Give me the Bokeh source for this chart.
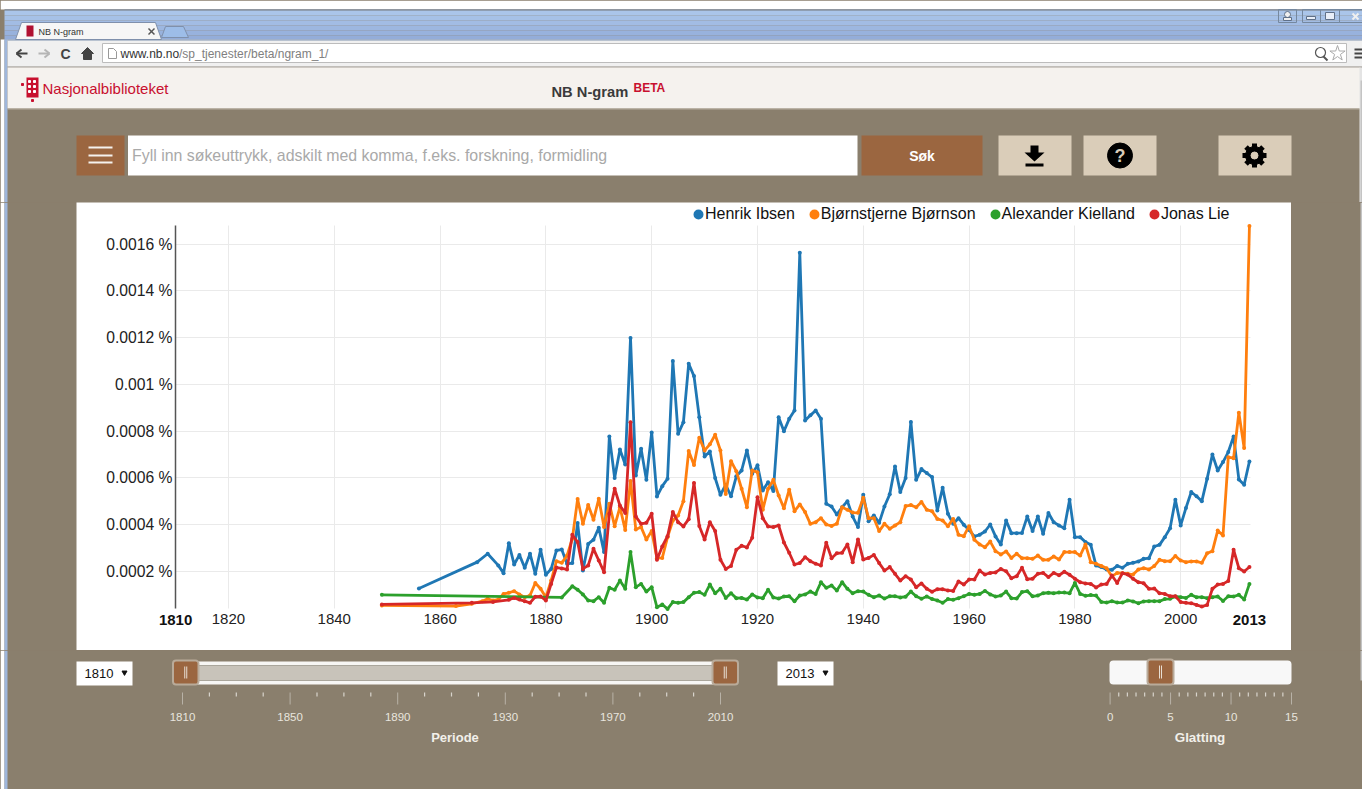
import math
import numpy as np
from bokeh.core.properties import value
from bokeh.embed import file_html
from bokeh.layouts import column, row
from bokeh.models import (FixedTicker, Label, Legend, LegendItem, Range1d)
from bokeh.plotting import figure
from bokeh.resources import INLINE

# ---------------- data (values in units of 1e-4 percent) ----------------
series_names = ["Henrik Ibsen", "Bjørnstjerne Bjørnson", "Alexander Kielland", "Jonas Lie"]
series_colors = ["#1f77b4", "#ff7f0e", "#2ca02c", "#d62728"]

ibsen_years = [1856, 1867, 1869, 1871] + list(range(1872, 2014))
ibsen = [1.27, 2.40, 2.76, 2.26,
         1.93, 3.21, 2.30, 2.71, 2.16, 2.76, 1.90, 2.93,
         1.86, 2.11, 2.90, 2.94, 2.33, 2.36, 4.07, 2.04, 3.18, 3.36,
         3.87, 2.83, 7.78, 6.00, 7.22, 6.58, 11.99, 6.11, 7.25, 5.92,
         7.95, 5.21, 5.65, 5.97, 11.00, 7.89, 8.39, 10.89, 10.36, 8.60,
         6.92, 7.13, 6.00, 5.28, 5.71, 5.22, 6.07, 6.32, 7.18, 6.18,
         6.54, 5.47, 5.82, 5.44, 8.60, 8.00, 8.53, 8.89, 15.64, 8.46,
         8.68, 8.89, 8.53, 4.90, 4.78, 4.44, 4.75, 5.01, 4.35, 3.90,
         5.28, 4.15, 4.40, 4.08, 4.78, 5.30, 6.49, 5.40, 6.00, 8.40,
         5.92, 6.38, 6.21, 6.04, 4.61, 5.58, 4.47, 4.04, 4.28, 4.00,
         3.78, 3.50, 3.57, 3.71, 4.01, 3.50, 3.16, 4.18, 3.64, 3.64,
         3.65, 4.35, 3.73, 4.35, 3.61, 4.50, 4.11, 3.97, 3.85, 5.07,
         3.47, 3.47, 3.26, 3.14, 2.26, 2.19, 2.09, 2.07, 2.24, 2.16,
         2.33, 2.37, 2.43, 2.54, 2.57, 3.07, 3.14, 3.47, 3.85, 5.07,
         3.97, 4.72, 5.40, 5.22, 5.01, 5.97, 7.00, 6.32, 6.68, 7.11,
         7.78, 5.94, 5.71, 6.71]

bjornson_years = [1849, 1863, 1866, 1868] + list(range(1869, 2014))
bjornson = [0.55, 0.52, 0.62, 0.73,
            0.83, 0.76, 0.80, 1.04, 1.09, 1.16, 1.02, 0.90, 0.97, 1.51, 1.26,
            0.90, 1.61, 2.44, 2.37, 2.68, 3.40, 5.10, 4.04, 4.85, 4.21,
            5.11, 3.90, 4.90, 3.94, 4.75, 3.78, 5.87, 3.80, 3.90, 3.37,
            3.73, 2.57, 2.58, 3.47, 4.18, 4.40, 5.01, 7.15, 6.56, 7.72,
            7.18, 7.44, 7.85, 7.18, 5.32, 6.72, 6.29, 5.54, 4.75, 6.32,
            6.25, 4.64, 5.54, 5.92, 5.25, 4.71, 5.50, 4.58, 4.87, 4.54,
            4.04, 4.11, 4.28, 4.01, 3.95, 4.04, 4.75, 4.64, 4.52, 4.51,
            5.15, 4.28, 4.28, 3.73, 4.04, 3.83, 3.97, 4.11, 4.80, 4.84,
            4.75, 4.97, 4.64, 4.58, 4.25, 4.18, 3.94, 4.25, 3.57, 3.51,
            3.94, 3.36, 3.16, 3.04, 3.28, 2.87, 2.73, 2.86, 2.58, 2.76,
            2.57, 2.57, 2.54, 2.68, 2.50, 2.50, 2.64, 2.51, 2.83, 2.83,
            2.83, 2.68, 3.16, 2.40, 2.33, 2.24, 2.14, 1.79, 1.94, 1.93,
            1.90, 1.87, 2.09, 2.14, 2.09, 2.23, 2.50, 2.44, 2.44, 2.66,
            2.47, 2.40, 2.43, 2.43, 2.37, 2.78, 2.87, 3.75, 3.54, 6.89,
            6.85, 8.79, 7.28, 16.78]

kielland_years = [1849, 1883] + list(range(1885, 2014))
kielland = [1.00, 0.89,
            1.37, 1.22, 1.02, 0.76, 0.73,
            0.90, 0.66, 1.30, 1.22, 1.61, 1.26, 2.83, 1.33, 1.47, 1.14,
            1.33, 0.47, 0.59, 0.40, 0.69, 0.66, 0.69, 0.90, 1.09, 1.12,
            1.00, 1.44, 1.07, 1.26, 0.87, 1.07, 0.86, 0.87, 0.80, 1.02,
            0.89, 0.86, 1.22, 0.89, 0.84, 0.93, 0.94, 0.73, 0.97, 1.02,
            1.14, 1.04, 1.54, 1.30, 1.40, 1.19, 1.54, 1.26, 1.07, 1.16,
            1.14, 1.00, 0.90, 0.97, 0.84, 0.94, 0.94, 0.89, 0.92, 1.14,
            0.94, 0.83, 0.93, 0.82, 0.76, 0.66, 0.82, 0.79, 0.86, 0.94,
            1.04, 1.00, 1.04, 1.17, 1.02, 0.93, 0.97, 1.14, 0.86, 0.84,
            1.12, 1.16, 0.94, 0.97, 1.07, 1.09, 1.07, 1.10, 1.10, 1.07,
            1.51, 1.04, 0.96, 0.99, 0.97, 0.70, 0.67, 0.73, 0.67, 0.67,
            0.76, 0.72, 0.64, 0.72, 0.73, 0.73, 0.73, 0.82, 0.83, 0.93,
            0.90, 0.87, 1.00, 0.90, 0.90, 0.86, 0.90, 0.93, 0.74, 0.94,
            0.93, 1.00, 0.80, 1.47]

lie_years = [1849, 1866, 1870] + list(range(1873, 2014))
lie = [0.59, 0.66, 0.70,
       0.79, 0.87, 0.80, 0.73, 0.66, 0.92, 0.93,
       0.76, 1.47, 2.17, 2.13, 2.09, 3.57, 3.26, 2.11, 2.26, 2.97,
       2.47, 1.97, 4.47, 5.54, 4.82, 4.50, 8.39, 4.35, 4.04, 4.08,
       4.47, 2.50, 3.07, 3.51, 4.54, 4.11, 3.93, 4.24, 5.79, 3.95,
       3.37, 4.11, 3.73, 2.50, 2.11, 2.24, 2.93, 3.10, 3.03, 3.44,
       5.18, 4.28, 3.93, 3.90, 3.97, 3.24, 2.80, 2.30, 2.36, 2.61,
       2.44, 2.33, 2.26, 3.23, 2.57, 2.78, 2.80, 3.16, 2.40, 3.37,
       2.51, 2.58, 2.71, 2.36, 2.04, 2.19, 1.90, 1.61, 1.80, 1.66,
       1.33, 1.49, 1.26, 1.13, 1.24, 1.24, 1.19, 1.17, 1.57, 1.44,
       1.66, 1.66, 2.04, 1.87, 1.94, 1.96, 2.11, 2.01, 1.71, 1.80,
       2.16, 1.67, 1.69, 1.90, 1.94, 1.76, 1.94, 1.84, 1.99, 1.86,
       1.69, 1.54, 1.49, 1.47, 1.32, 1.44, 1.47, 1.83, 1.51, 1.93,
       1.87, 1.69, 1.54, 1.50, 1.26, 1.27, 1.07, 1.04, 0.94, 0.94,
       0.69, 0.66, 0.64, 0.57, 0.50, 0.57, 1.26, 1.44, 1.47, 1.59,
       2.93, 2.14, 2.00, 2.19]

x_grid_years = [1820, 1840, 1860, 1880, 1900, 1920, 1940, 1960, 1980, 2000]
x_end_years = [1810, 2013]
y_ticks = [0.0002, 0.0004, 0.0006, 0.0008, 0.001, 0.0012, 0.0014, 0.0016]
period_labels = ["1810", "1850", "1890", "1930", "1970", "2010"]
smooth_labels = ["0", "5", "10", "15"]

# ---------------- palette ----------------
BROWN = "#8a7f6d"
CREAM = "#f5f2ee"
BTN_DARK = "#9b6640"
BTN_LIGHT = "#dacdb9"
FRAME_BLUE = "#9fb7dc"
SANS = value("Liberation Sans")
BG = {"background-color": BROWN}


def chrome(x0, x1, y0, y1):
    """A drawing surface whose ranges are page pixels."""
    f = figure(width=x1 - x0, height=y1 - y0, output_backend="svg", toolbar_location=None,
               x_range=Range1d(x0, x1), y_range=Range1d(y1, y0),
               x_axis_location=None, y_axis_location=None, min_border=0,
               background_fill_color=BROWN, border_fill_color=BROWN, outline_line_color=None,
               styles=BG)
    f.grid.visible = False
    return f


def box(f, x0, y0, x1, y1, color, line=None, lw=1, radius=0):
    f.quad(left=[x0], right=[x1], top=[y0], bottom=[y1], fill_color=color,
           line_color=line if line else color, line_width=lw if line else 0, border_radius=radius)


def txt(f, x, y, s, size, color="#000000", bold=False, align="left", font=SANS):
    f.text(x=[x], y=[y], text=[s], text_font=font, text_font_size=f"{size}px", text_color=color,
           text_font_style="bold" if bold else "normal", text_align=align, text_baseline="middle")


def sides(f, y0, y1):
    """White outer page, blue window edge on the left."""
    box(f, 0, y0, 4, y1, "#ffffff")
    box(f, 4, y0, 7, y1, FRAME_BLUE)


# ---------------- header ----------------
top = chrome(0, 1362, 0, 202)
box(top, 0, 0, 1362, 9, "#ffffff")
box(top, 4, 9, 1362, 10, "#5f7089")
grad = ["#aac5ea", "#a6c1e7", "#a2bce4", "#9db7e0", "#98b2dd", "#94add9"]
for i, c in enumerate(grad):
    box(top, 4, 10 + i * 5, 1362, 15 + i * 5, c)
sides(top, 39, 202)
box(top, 7, 39, 1362, 66, "#f0f0f0")
box(top, 7, 39, 1362, 40, "#8093b0")
box(top, 7, 66, 1362, 67, "#c4c4c4")
box(top, 7, 67, 1360, 108, CREAM)
box(top, 7, 108, 1359, 109, "#b5ad9f")
box(top, 1359, 67, 1362, 202, "#e4e4e4")
box(top, 1360, 80, 1362, 202, "#c4c4c4")
# tabs
top.patch(x=[15, 21, 155, 161], y=[39, 22, 22, 39], fill_color="#f6f6f6", line_color="#7f90ac", line_width=1)
top.patch(x=[161, 165, 183, 188], y=[37, 26, 26, 37], fill_color="#9dbde8", line_color="#7f90ac", line_width=1)
box(top, 26, 25, 33, 36, "#b01030")
txt(top, 38, 31, "NB N-gram", 9, "#333333")
top.segment(x0=[148, 148], y0=[28, 34], x1=[154, 154], y1=[34, 28], line_color="#555555", line_width=1.5)
# window buttons
for a, b in [(1278, 1296), (1302, 1320), (1320, 1339), (1339, 1362)]:
    top.quad(left=[a], right=[b], top=[9], bottom=[22], fill_color=None, line_color="#75889f", line_width=1)
top.scatter(x=[1287], y=[14], size=6, marker="circle", fill_color="#f0f0f0", line_color="#5f7089")
box(top, 1283, 17, 1291, 20, "#f0f0f0", "#5f7089")
box(top, 1306, 16, 1315, 19, "#e8eef8", "#5f7089")
box(top, 1325, 12, 1334, 19, "#e8eef8", "#5f7089")
top.segment(x0=[1352, 1352], y0=[13, 19], x1=[1358, 1358], y1=[19, 13], line_color="#f0f0f0", line_width=2)
# toolbar
arrow_y = 53
top.segment(x0=[16, 16, 16], y0=[arrow_y] * 3, x1=[27, 21, 21], y1=[arrow_y, arrow_y - 4, arrow_y + 4],
            line_color="#444444", line_width=2)
top.segment(x0=[49, 49, 49], y0=[arrow_y] * 3, x1=[38, 44, 44], y1=[arrow_y, arrow_y - 4, arrow_y + 4],
            line_color="#b5b5b5", line_width=2)
txt(top, 65, 53, "C", 14, "#444444", bold=True, align="center")
top.patch(x=[81, 87, 93, 91, 91, 83, 83], y=[53, 47, 53, 53, 59, 59, 53], fill_color="#444444", line_color="#444444")
box(top, 102, 43, 1346, 62, "#ffffff", "#bcbcbc")
top.patch(x=[108, 113, 116, 116, 108], y=[48, 48, 51, 58, 58], fill_color="#ffffff", line_color="#999999")
txt(top, 120, 53, "www.nb.no", 12, "#333333")
txt(top, 178.5, 53, "/sp_tjenester/beta/ngram_1/", 12, "#808080")
top.scatter(x=[1320], y=[52], size=10, marker="circle", fill_color=None, line_color="#555555", line_width=1.2)
top.segment(x0=[1323], y0=[56], x1=[1327], y1=[60], line_color="#555555", line_width=2)
top.scatter(x=[1337], y=[53], size=16, marker="star", fill_color="#ffffff", line_color="#aaaaaa")
for yy in (49, 53, 57):
    box(top, 1354, yy - 1, 1362, yy + 1, "#444444")
# site header
box(top, 26, 77, 38, 97, "#c8102e")
top.scatter(x=[29, 34, 29, 34, 29, 34, 22, 32], y=[81, 81, 86, 86, 91, 91, 84, 100], size=2, marker="square",
            color=["#ffffff"] * 6 + ["#c8102e"] * 2)
txt(top, 42, 88, "Nasjonalbiblioteket", 15, "#c8102e")
txt(top, 551, 91, "NB N-gram", 14.7, "#3a3a3a", bold=True)
txt(top, 633, 87, "BETA", 12, "#c8102e", bold=True)
# search row
box(top, 76, 135, 124, 175, BTN_DARK)
for yy in (147, 155, 162):
    box(top, 88, yy - 1, 112, yy + 1, "#f5f2ee")
box(top, 127.5, 135, 857, 175, "#ffffff")
txt(top, 131.5, 155, "Fyll inn søkeuttrykk, adskilt med komma, f.eks. forskning, formidling", 15.9, "#a9a9a9")
box(top, 861, 135, 982, 175, BTN_DARK)
txt(top, 921.5, 155, "Søk", 14, "#ffffff", bold=True, align="center")
box(top, 998, 135, 1071, 175, BTN_LIGHT)
top.patch(x=[1030, 1038, 1038, 1044, 1034, 1024, 1030], y=[145, 145, 152, 152, 161, 152, 152],
          fill_color="#000000", line_color="#000000", line_width=0)
box(top, 1025, 163, 1043, 166, "#000000")
box(top, 1083, 135, 1156, 175, BTN_LIGHT)
top.scatter(x=[1119.5], y=[155], size=25, marker="circle", color="#000000")
txt(top, 1119.5, 155, "?", 18, "#dacdb9", bold=True, align="center")
box(top, 1218, 135, 1291, 175, BTN_LIGHT)
angles = np.arange(8) * math.pi / 4
top.segment(x0=1254 + 6 * np.cos(angles), y0=155 + 6 * np.sin(angles),
            x1=1254 + 12 * np.cos(angles), y1=155 + 12 * np.sin(angles),
            line_color="#000000", line_width=5)
top.scatter(x=[1254], y=[155], size=18, marker="circle", color="#000000")
top.scatter(x=[1254], y=[155], size=7, marker="circle", color=BTN_LIGHT)

# ---------------- chart ----------------
CH_W, CH_H = 1215, 448
Y_LOW, Y_TOP = 0.0000417, 0.00168       # extent of axis and grid
X_LOW, X_HIGH = 1810, 2013.2
p = figure(width=CH_W, height=CH_H, output_backend="svg", toolbar_location=None,
           x_range=Range1d(1791.27, 2020.95), y_range=Range1d(-0.000138, 0.0017786),
           min_border=0,
           background_fill_color="#ffffff", border_fill_color="#ffffff", outline_line_color=None)

p.xaxis.ticker = FixedTicker(ticks=x_grid_years)
p.yaxis.ticker = FixedTicker(ticks=y_ticks)
p.yaxis.major_label_overrides = {t: f"{t:g} %" for t in y_ticks}
p.xaxis.fixed_location = Y_LOW
p.yaxis.fixed_location = X_LOW
for ax in (p.xaxis[0], p.yaxis[0]):
    ax.major_tick_line_color = None
    ax.minor_tick_line_color = None
    ax.major_tick_out = 0
    ax.major_tick_in = 0
    ax.minor_tick_out = 0
    ax.minor_tick_in = 0
    ax.major_label_text_font = "Liberation Sans"
    ax.major_label_text_color = "#222222"
p.xaxis.axis_line_color = None
p.xaxis.major_label_text_font_size = "15px"
p.xaxis.major_label_standoff = 6
p.yaxis.major_label_text_font_size = "15.7px"
p.yaxis.major_label_standoff = 3
p.yaxis.axis_line_color = "#555555"
p.yaxis.axis_line_width = 1.5
p.yaxis.bounds = (Y_LOW, Y_TOP)
p.xgrid.grid_line_color = "#eaeaea"
p.ygrid.grid_line_color = "#eaeaea"
p.xgrid.grid_line_width = 1
p.ygrid.grid_line_width = 1
p.xgrid.cross_bounds = (Y_LOW, Y_TOP)
p.ygrid.cross_bounds = (X_LOW, X_HIGH)

all_series = [(ibsen_years, ibsen), (bjornson_years, bjornson), (kielland_years, kielland), (lie_years, lie)]
legend_items = []
for (yrs, vals), name, col in zip(all_series, series_names, series_colors):
    v = np.array(vals) * 1e-4
    p.line(yrs, v, line_color=col, line_width=2.8, line_join="round")
    p.scatter(yrs, v, size=4, marker="circle", fill_color=col, line_color=None)
    key = p.scatter([float("nan")], [float("nan")], marker="circle", fill_color=col, line_color=col, line_width=4.4)
    legend_items.append(LegendItem(label=name, renderers=[key]))

legend = Legend(items=legend_items, orientation="horizontal", location=(615, 426),
                glyph_width=14, glyph_height=14, label_standoff=0, spacing=12,
                padding=0, margin=0, background_fill_alpha=0, border_line_color=None,
                label_text_font="Liberation Sans", label_text_font_size="16px",
                label_text_color="#111111", label_height=20)
p.add_layout(legend, "center")

for yr in x_end_years:
    p.add_layout(Label(x=yr, y=Y_LOW, y_offset=-12, text=str(yr), text_align="center",
                       text_baseline="middle", text_font="Liberation Sans", text_font_size="15px",
                       text_font_style="bold", text_color="#111111"))

left_pad = chrome(0, 76, 202, 650)
sides(left_pad, 202, 650)
right_pad = chrome(1291, 1362, 202, 650)
box(right_pad, 1360, 202, 1362, 650, "#c4c4c4")

# ---------------- footer ----------------
bot = chrome(0, 1362, 650, 789)
sides(bot, 650, 789)
box(bot, 1360, 650, 1362, 680, "#c4c4c4")


def select(f, x0, x1, label):
    box(f, x0, 661, x1, 685, "#ffffff")
    txt(f, x0 + 8, 673, label, 13, "#111111")
    f.scatter(x=[x1 - 8], y=[672], size=5, marker="inverted_triangle", color="#111111")


def handle(f, x0, x1, y0=660, y1=684):
    box(f, x0, y0, x1, y1, BTN_DARK, "#b9ab9a", 2, radius=3)
    mid = (x0 + x1) / 2
    f.segment(x0=[mid - 1, mid + 1], y0=[y0 + 6] * 2, x1=[mid - 1, mid + 1], y1=[y1 - 6] * 2,
              line_color="#e8dfd4", line_width=1)


select(bot, 76, 132, "1810")
select(bot, 777, 833, "2013")

# range slider
box(bot, 180, 661, 728, 684, "#f7f6f4")
box(bot, 198, 665, 712, 680, "#c8c3ba", "#aaa69c")
handle(bot, 172.5, 198)
handle(bot, 712, 737.5)
maj = np.linspace(182, 720, len(period_labels))
bot.segment(x0=maj, y0=[692] * len(maj), x1=maj, y1=[704] * len(maj), line_color="#b8b2a7", line_width=1)
step = (maj[1] - maj[0]) / 4
mnr = [m + k * step for m in maj[:-1] for k in (1, 2, 3)]
bot.segment(x0=mnr, y0=[692] * len(mnr), x1=mnr, y1=[696] * len(mnr), line_color="#d8d4cc", line_width=1.2)
for m, lab in zip(maj, period_labels):
    txt(bot, m, 716, lab, 11.5, "#e8e5de", align="center")
txt(bot, 454.5, 737, "Periode", 13, "#f2f0ea", bold=True, align="center")

# smoothing slider
box(bot, 1109, 660, 1291, 684, "#f8f8f8", radius=4)
handle(bot, 1147, 1173, 659, 684)
maj2 = np.linspace(1109.6, 1291, len(smooth_labels))
bot.segment(x0=maj2, y0=[692] * 4, x1=maj2, y1=[704] * 4, line_color="#b8b2a7", line_width=1)
step2 = (maj2[1] - maj2[0]) / 7
mnr2 = [m + k * step2 for m in maj2[:-1] for k in range(1, 7)]
bot.segment(x0=mnr2, y0=[692] * len(mnr2), x1=mnr2, y1=[696] * len(mnr2), line_color="#d8d4cc", line_width=1.2)
for m, lab in zip(maj2, smooth_labels):
    txt(bot, m, 716, lab, 11.5, "#e8e5de", align="center")
txt(bot, 1199.5, 737, "Glatting", 13.4, "#f2f0ea", bold=True, align="center")

# ---------------- page ----------------
page = column(top, row(left_pad, p, right_pad, spacing=0, styles=BG), bot, spacing=0, styles=BG)

open("out.html", "w").write(file_html(page, INLINE))
